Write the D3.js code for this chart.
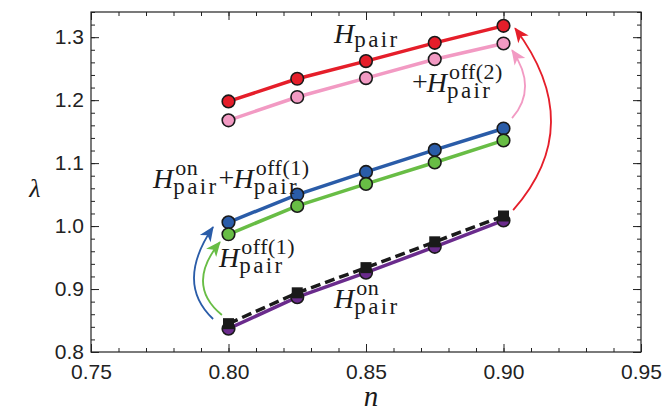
<!DOCTYPE html>
<html>
<head>
<meta charset="utf-8">
<script src="https://cdn.jsdelivr.net/npm/d3@7"></script>
<style>
body { margin: 0; background: #fff; }
.tick line { stroke: #222; stroke-width: 1; }
</style>
</head>
<body>
<svg width="664" height="414"></svg>
<script>
// filling n on the x axis, one point per value
var nValues = [0.80, 0.825, 0.85, 0.875, 0.90];
// lambda for each pairing term
var hPair = [1.198, 1.234, 1.262, 1.291, 1.318];
var hOff2 = [1.168, 1.205, 1.235, 1.265, 1.290];
var hOnOff1 = [1.006, 1.050, 1.086, 1.121, 1.155];
var hOff1 = [0.987, 1.032, 1.067, 1.101, 1.136];
var hOn = [0.837, 0.887, 0.926, 0.967, 1.009];
var hDashed = [0.845, 0.894, 0.934, 0.975, 1.016];

var xTicks = [0.75, 0.80, 0.85, 0.90, 0.95];
var yTicks = [0.8, 0.9, 1.0, 1.1, 1.2, 1.3];

var SANS = "'Liberation Sans', Arimo, Arial, sans-serif";
var SERIF = "'Liberation Serif', Tinos, 'Times New Roman', 'DejaVu Serif', serif";

var svg = d3.select('svg');
var plotL = 91, plotR = 641, plotT = 12, plotB = 352;

var x = d3.scaleLinear().domain([0.75, 0.95]).range([plotL, plotR]);
var y = d3.scaleLinear().domain([0.8, 1.34]).range([plotB, plotT]);

var xMinor = d3.range(75, 96).map(function(d) { return d / 100; });
var yMinor = d3.range(40, 68).map(function(d) { return d / 50; });

// frame
svg.append('rect')
    .attr('x', plotL).attr('y', plotT)
    .attr('width', plotR - plotL).attr('height', plotB - plotT)
    .attr('fill', 'none').attr('stroke', '#222').attr('stroke-width', 1.2);

function addAxis(axis, tx, ty) {
    var g = svg.append('g').attr('transform', 'translate(' + tx + ',' + ty + ')').call(axis);
    g.select('.domain').remove();
    g.selectAll('text')
        .attr('font-family', SANS)
        .attr('font-size', 21)
        .attr('fill', '#222');
    return g;
}

addAxis(d3.axisBottom(x).tickValues(xMinor).tickSize(-4).tickFormat(''), 0, plotB);
addAxis(d3.axisBottom(x).tickValues(xTicks).tickSize(-8).tickPadding(12).tickFormat(d3.format('.2f')), 0, plotB);
addAxis(d3.axisTop(x).tickValues(xMinor).tickSize(-4).tickFormat(''), 0, plotT);
addAxis(d3.axisTop(x).tickValues(xTicks).tickSize(-8).tickFormat(''), 0, plotT);
addAxis(d3.axisLeft(y).tickValues(yMinor).tickSize(-4).tickFormat(''), plotL, 0);
addAxis(d3.axisLeft(y).tickValues(yTicks).tickSize(-8).tickPadding(7).tickFormat(d3.format('.1f')), plotL, 0);
addAxis(d3.axisRight(y).tickValues(yMinor).tickSize(-4).tickFormat(''), plotR, 0);
addAxis(d3.axisRight(y).tickValues(yTicks).tickSize(-8).tickFormat(''), plotR, 0);

// axis titles
svg.append('text').attr('font-family', SERIF).attr('fill', '#1a1a1a')
    .attr('x', 35).attr('y', 197).attr('text-anchor', 'middle')
    .attr('font-size', 26).attr('font-style', 'italic').text('λ');
svg.append('text').attr('font-family', SERIF).attr('fill', '#1a1a1a')
    .attr('x', 371).attr('y', 406).attr('text-anchor', 'middle')
    .attr('font-size', 29).attr('font-style', 'italic').text('n');

var line = d3.line()
    .x(function(d, i) { return x(nValues[i]); })
    .y(function(d) { return y(d); });

function drawLine(values, color, dash) {
    svg.append('path')
        .datum(values)
        .attr('d', line)
        .attr('fill', 'none')
        .attr('stroke', color)
        .attr('stroke-width', 3.5)
        .attr('stroke-dasharray', dash || null);
}

function drawCircles(values, fill) {
    svg.append('g').selectAll('circle')
        .data(values)
        .join('circle')
        .attr('cx', function(d, i) { return x(nValues[i]); })
        .attr('cy', function(d) { return y(d); })
        .attr('r', 6.3)
        .attr('fill', fill)
        .attr('stroke', '#1a1a1a')
        .attr('stroke-width', 1.6);
}

drawLine(hPair, '#e51e2a');
drawCircles(hPair, '#e51e2a');
drawLine(hOff2, '#f29ac3');
drawCircles(hOff2, '#f29ac3');
drawLine(hOnOff1, '#2a5ca8');
drawCircles(hOnOff1, '#2a5ca8');
drawLine(hOff1, '#68bd45');
drawCircles(hOff1, '#68bd45');
drawLine(hOn, '#6a2b8c');
drawCircles(hOn, '#6a2b8c');
drawLine(hDashed, '#1a1a1a', '10,5');
svg.append('g').selectAll('rect')
    .data(hDashed)
    .join('rect')
    .attr('x', function(d, i) { return x(nValues[i]) - 5.5; })
    .attr('y', function(d) { return y(d) - 5.5; })
    .attr('width', 11).attr('height', 11)
    .attr('fill', '#1a1a1a');

// curved arrows, [tail, control, head] in (n, lambda)
var arrows = [
    { color: '#2a5ca8', pts: [[0.7944, 0.8524], [0.7805, 0.9095], [0.7944, 0.9984]] },
    { color: '#68bd45', pts: [[0.7976, 0.8587], [0.7842, 0.9063], [0.7969, 0.9746]] },
    { color: '#f29ac3', pts: [[0.9031, 1.1714], [0.9126, 1.2190], [0.9031, 1.2794]] },
    { color: '#e51e2a', pts: [[0.9035, 1.0254], [0.9307, 1.1603], [0.9042, 1.3143]] }
];

var defs = svg.append('defs');
arrows.forEach(function(a, i) {
    defs.append('marker')
        .attr('id', 'head' + i)
        .attr('markerUnits', 'userSpaceOnUse')
        .attr('viewBox', '-16 -8 18 16')
        .attr('markerWidth', 18).attr('markerHeight', 16)
        .attr('refX', 0).attr('refY', 0)
        .attr('orient', 'auto')
        .append('path')
        .attr('d', 'M1,0 L-14,-6.5 L-10,0 L-14,6.5 Z')
        .attr('fill', a.color);

    var p = a.pts.map(function(d) { return [x(d[0]), y(d[1])]; });
    svg.append('path')
        .attr('d', 'M' + p[0] + 'Q' + p[1] + ' ' + p[2])
        .attr('fill', 'none')
        .attr('stroke', a.color)
        .attr('stroke-width', 1.8)
        .attr('marker-end', 'url(#head' + i + ')');
});

// math labels: italic H with stacked super/subscripts
function mathLabel(px, py, terms) {
    var g = svg.append('g').attr('font-family', SERIF).attr('fill', '#1a1a1a');
    var cx = px;
    terms.forEach(function(t) {
        if (t.pre) {
            var pre = g.append('text').attr('x', cx).attr('y', py - 1).attr('font-size', 28).text(t.pre);
            cx += pre.node().getComputedTextLength() - 1;
        }
        var h = g.append('text').attr('x', cx).attr('y', py)
            .attr('font-size', 28).attr('font-style', 'italic').text('H');
        cx += h.node().getComputedTextLength() + 1;
        var w = 0;
        if (t.sup) {
            var sup = g.append('text').attr('x', cx + 1).attr('y', py - 13)
                .attr('font-size', 22).attr('letter-spacing', 0.5).text(t.sup);
            w = Math.max(w, sup.node().getComputedTextLength() + 1);
        }
        if (t.sub) {
            var sub = g.append('text').attr('x', cx - 1).attr('y', py + (t.sup ? 6 : 4))
                .attr('font-size', 23).attr('letter-spacing', 2.4).text(t.sub);
            w = Math.max(w, sub.node().getComputedTextLength() - 1);
        }
        cx += w;
    });
}

mathLabel(334, 43, [{ sub: 'pair' }]);
mathLabel(412, 92, [{ pre: '+', sup: 'off(2)', sub: 'pair' }]);
mathLabel(153, 188, [{ sup: 'on', sub: 'pair' }, { pre: '+', sup: 'off(1)', sub: 'pair' }]);
mathLabel(219, 267, [{ sup: 'off(1)', sub: 'pair' }]);
mathLabel(334, 308, [{ sup: 'on', sub: 'pair' }]);
</script>
</body>
</html>
